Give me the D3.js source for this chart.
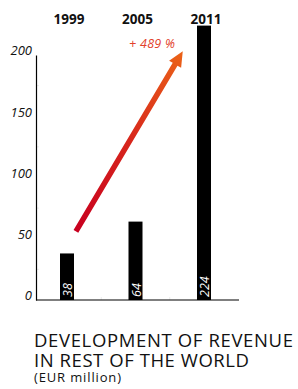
<!DOCTYPE html>
<html><head><meta charset="utf-8">
<script src="https://cdn.jsdelivr.net/npm/d3@7"></script>
<style>
html,body{margin:0;padding:0;background:#fff;}
svg{display:block;}
</style></head>
<body>
<svg id="c" width="298" height="389"></svg>
<script>
const years = ["1999", "2005", "2011"];
const revenue = [38, 64, 224];
const yTicks = [0, 50, 100, 150, 200];
const minorTicks = [25, 75, 125, 175];
const growthLabel = "+ 489 %";
const arrowFrom = [0.13, 56];   // [category index, value]
const arrowTo = [1.69, 203];
const titleLines = ["DEVELOPMENT OF REVENUE", "IN REST OF THE WORLD"];
const unitLabel = "(EUR million)";

const svg = d3.select("#c");
const font = "'Open Sans', 'Noto Sans', sans-serif";

const y = d3.scaleLinear().domain([0, 200]).range([300, 55]);
const xi = d3.scaleLinear().domain([0, 2]).range([67, 204]);
const barW = 14;

// minor faint ticks
svg.selectAll("line.minor").data(minorTicks).join("line")
  .attr("x1", 36).attr("x2", 39).attr("y1", d => y(d)).attr("y2", d => y(d))
  .attr("stroke", "#ddd").attr("stroke-width", 0.6);
// faint category separators on x-axis
svg.selectAll("line.sep").data(d3.range(1, years.length)).join("line")
  .attr("x1", d => xi(d - 0.5)).attr("x2", d => xi(d - 0.5))
  .attr("y1", 297).attr("y2", 300).attr("stroke", "#ddd").attr("stroke-width", 0.6);

// y axis
const yAxis = d3.axisLeft(y).tickValues(yTicks).tickSize(0).tickPadding(4);
const gy = svg.append("g").attr("transform", "translate(36,0)").call(yAxis);
gy.select(".domain").attr("stroke", "#000").attr("stroke-width", 1.2);
gy.selectAll("text").attr("font-family", font).attr("font-style", "italic")
  .attr("font-size", 13).attr("fill", "#111").attr("dy", "-0.02em");

// x axis line
svg.append("line").attr("x1", 36).attr("x2", 239).attr("y1", 300).attr("y2", 300)
  .attr("stroke", "#000").attr("stroke-width", 1.2);

// bars
svg.selectAll("rect.bar").data(revenue).join("rect")
  .attr("x", (d, i) => xi(i) - barW / 2).attr("width", barW)
  .attr("y", d => y(d)).attr("height", d => y(0) - y(d)).attr("fill", "#000");

// value labels
svg.selectAll("text.val").data(revenue).join("text")
  .attr("transform", (d, i) => `translate(${xi(i) + 0.5},297) rotate(-90)`)
  .attr("dy", "0.36em").attr("text-anchor", "start")
  .attr("font-family", font).attr("font-style", "italic").attr("font-size", 12.5)
  .attr("fill", "#fff").text(d => d);

// year labels
svg.selectAll("text.yr").data(years).join("text")
  .attr("x", (d, i) => xi(i) + 2).attr("y", 24).attr("text-anchor", "middle")
  .attr("font-family", font).attr("font-weight", "bold").attr("font-size", 13.5)
  .attr("fill", "#111").text(d => d);

// growth arrow
const x0 = xi(arrowFrom[0]), y0 = y(arrowFrom[1]);
const x1 = xi(arrowTo[0]), y1 = y(arrowTo[1]);
const ang = Math.atan2(y1 - y0, x1 - x0);
const len = Math.hypot(x1 - x0, y1 - y0);
const defs = svg.append("defs");
const grad = defs.append("linearGradient").attr("id", "ag")
  .attr("gradientUnits", "userSpaceOnUse")
  .attr("x1", 0).attr("y1", 0).attr("x2", len).attr("y2", 0);
grad.append("stop").attr("offset", 0).attr("stop-color", "#c8001f");
grad.append("stop").attr("offset", 0.5).attr("stop-color", "#d7261c");
grad.append("stop").attr("offset", 1).attr("stop-color", "#eb6318");

const headL = 15, headW = 14, shaftW = 5.5;
const pts = [
  [0, -shaftW / 2], [len - headL, -shaftW / 2], [len - headL, -headW / 2], [len, 0],
  [len - headL, headW / 2], [len - headL, shaftW / 2], [0, shaftW / 2]
];
svg.append("path")
  .attr("d", d3.line()(pts) + "Z")
  .attr("transform", `translate(${x0},${y0}) rotate(${ang * 180 / Math.PI})`)
  .attr("fill", "url(#ag)");

svg.append("text").attr("x", 129).attr("y", 48)
  .attr("textLength", 46).attr("lengthAdjust", "spacing")
  .attr("font-family", font).attr("font-style", "italic").attr("font-size", 12.5)
  .attr("fill", "#e2412b").text(growthLabel);

// titles
const titleW = [259, 215];
svg.selectAll("text.title").data(titleLines).join("text")
  .attr("x", 34).attr("y", (d, i) => 347 + i * 20)
  .attr("textLength", (d, i) => titleW[i]).attr("lengthAdjust", "spacing")
  .attr("font-family", font).attr("font-size", 18.5).attr("fill", "#111")
  .text(d => d);
svg.append("text").attr("x", 34).attr("y", 382)
  .attr("textLength", 87).attr("lengthAdjust", "spacing")
  .attr("font-family", font).attr("font-size", 13).attr("fill", "#111")
  .text(unitLabel);
</script>
</body></html>
